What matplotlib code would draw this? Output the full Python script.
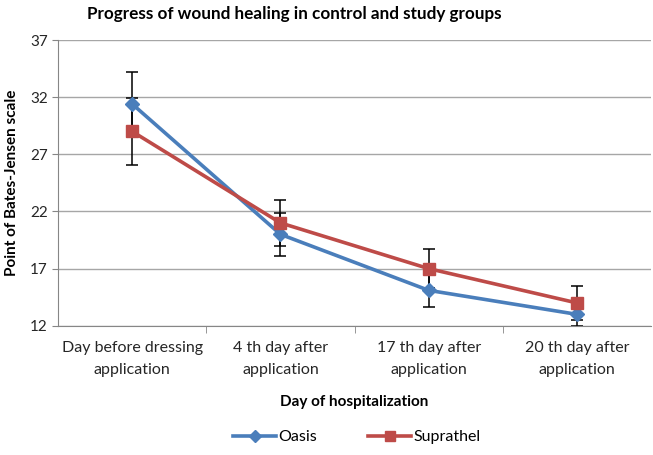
import numpy as np
import matplotlib.pyplot as plt

categories = ['Day before dressing\napplication', '4 th day after\napplication',
              '17 th day after\napplication', '20 th day after\napplication']
oasis = [31.4, 20.0, 15.1, 13.0]
oasis_err = [2.8, 1.9, 1.45, 1.0]
suprathel = [29.0, 21.0, 17.0, 14.0]
suprathel_err = [2.9, 2.0, 1.7, 1.5]
yticks = [12, 17, 22, 27, 32, 37]

plt.rcParams['font.family'] = ['Lato', 'DejaVu Sans']

fig = plt.figure(figsize=(6.53, 4.55), dpi=100)
ax = fig.add_axes([0.089, 0.284, 0.908, 0.628])

x = np.arange(len(categories))
blue = '#4a7ebb'
red = '#be4b48'

# error bars sit under the lines and markers
ax.errorbar(x, oasis, yerr=oasis_err, fmt='none', ecolor='black', elinewidth=1.1,
            capsize=4, capthick=1.1, zorder=2)
ax.errorbar(x, suprathel, yerr=suprathel_err, fmt='none', ecolor='black', elinewidth=1.1,
            capsize=4, capthick=1.1, zorder=2)
ax.plot(x, oasis, color=blue, lw=2.6, marker='D', ms=7, label='Oasis', zorder=3)
ax.plot(x, suprathel, color=red, lw=2.6, marker='s', ms=9, label='Suprathel', zorder=3)

ax.set_xlim(-0.5, 3.5)
ax.set_ylim(12, 37)
ax.set_yticks(yticks)
ax.yaxis.grid(True, color='#a6a6a6', lw=1)
ax.set_axisbelow(True)

ax.set_xticks(x)
ax.set_xticklabels(categories, fontsize=11.5, color='#262626', linespacing=1.75)
ax.set_xticks([0.5, 1.5, 2.5], minor=True)
ax.tick_params(axis='x', which='major', length=0, pad=11)
ax.tick_params(axis='x', which='minor', length=5, color='#868686')
ax.tick_params(axis='y', length=4, color='#868686', labelsize=11, labelcolor='#262626')

for s in ['top', 'right']:
    ax.spines[s].set_visible(False)
for s in ['left', 'bottom']:
    ax.spines[s].set_color('#868686')

fig.text(294 / 653, 1 - 14 / 455, 'Progress of wound healing in control and study groups',
         fontsize=12.3, fontweight='bold', ha='center', va='center')
ax.set_ylabel('Point of Bates-Jensen scale', fontsize=11, fontweight='bold', labelpad=8)
ax.set_xlabel('Day of hospitalization', fontsize=11, fontweight='bold', labelpad=13)

ax.legend(loc='center', bbox_to_anchor=(357 / 653, 1 - 437 / 455), bbox_transform=fig.transFigure,
          ncol=2, frameon=False, fontsize=11.5, handlelength=2.7, columnspacing=3.2,
          handletextpad=0.15, markerscale=0.85)

fig.savefig('out.png', dpi=100)
